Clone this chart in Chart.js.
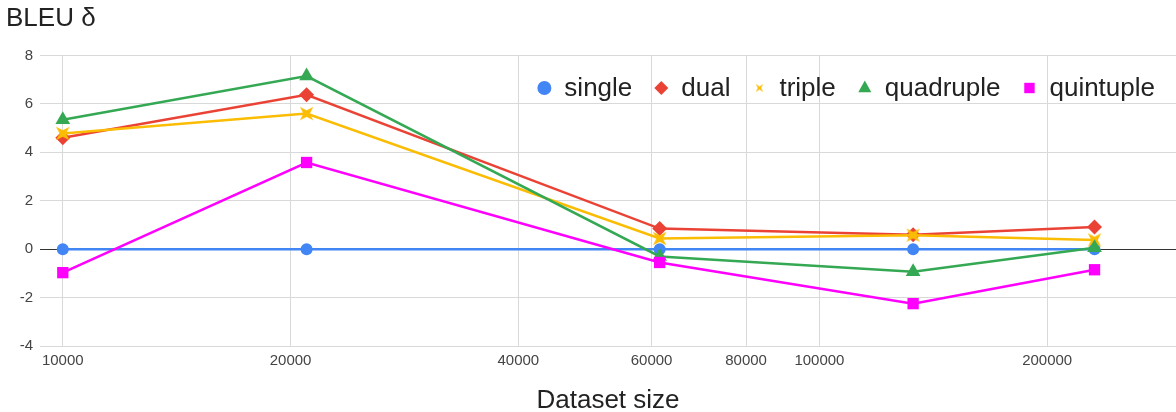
<!DOCTYPE html>
<html>
<head>
<meta charset="utf-8">
<script src="https://cdn.jsdelivr.net/npm/chart.js"></script>
<style>
  html, body { margin: 0; padding: 0; background: #fff; overflow: hidden; }
  #myChart { display: block; }
</style>
</head>
<body>
<canvas id="myChart" width="1176" height="412"></canvas>
<script>
// data
const datasetSizes = [10000, 21000, 61500, 133000, 231000];
const xTicks = [10000, 20000, 40000, 60000, 80000, 100000, 200000];
const yTicks = [-4, -2, 0, 2, 4, 6, 8];
const seriesNames = ['single', 'dual', 'triple', 'quadruple', 'quintuple'];
const single = [0, 0, 0, 0, 0];
const dual = [4.6, 6.38, 0.85, 0.6, 0.92];
const triple = [4.78, 5.6, 0.44, 0.58, 0.38];
const quadruple = [5.35, 7.15, -0.3, -0.93, 0.06];
const quintuple = [-0.97, 3.58, -0.55, -2.25, -0.85];

const FONT = '"Liberation Sans", Arial, sans-serif';

// four pointed star used as marker for "triple"
function makeStar(size, inner, color) {
    const c = document.createElement('canvas');
    c.width = size; c.height = size;
    const g = c.getContext('2d');
    const m = size / 2;
    g.fillStyle = color;
    g.beginPath();
    for (let i = 0; i < 8; i++) {
        const a = Math.PI / 4 + i * Math.PI / 4;
        const r = i % 2 === 0 ? m : inner;
        const px = m + Math.cos(a) * r, py = m + Math.sin(a) * r;
        if (i === 0) g.moveTo(px, py); else g.lineTo(px, py);
    }
    g.closePath();
    g.fill();
    return c;
}
const starBig = makeStar(19, 3.2, '#FBBC04');
const starSmall = makeStar(11, 1.6, '#FBBC04');

function toPoints(vals) {
    return vals.map(function (v, i) { return { x: datasetSizes[i], y: v }; });
}

const styles = [
    { color: '#4285F4', point: 'circle', radius: 6 },
    { color: '#EA4335', point: 'rectRot', radius: 7.5 },
    { color: '#FBBC04', point: starBig, radius: 9 },
    { color: '#34A853', point: 'triangle', radius: 8.5 },
    { color: '#FF00FF', point: 'rect', radius: 8 }
];
const values = [single, dual, triple, quadruple, quintuple];

const datasets = seriesNames.map(function (name, i) {
    return {
        label: name,
        data: toPoints(values[i]),
        borderColor: styles[i].color,
        backgroundColor: styles[i].color,
        borderWidth: 2.5,
        pointStyle: styles[i].point,
        pointRadius: styles[i].radius,
        pointBorderWidth: 0,
        pointBackgroundColor: styles[i].color,
        tension: 0,
        clip: false,
        order: 5 - i
    };
});

// legend drawn inside the plot, top right
const legendMarks = [
    { type: 'circle', r: 7 },
    { type: 'diamond', r: 7 },
    { type: 'star', r: 5 },
    { type: 'triangle', r: 7.5 },
    { type: 'square', r: 5.2 }
];
const insideLegend = {
    id: 'insideLegend',
    afterDraw: function (chart) {
        const ctx = chart.ctx;
        ctx.save();
        ctx.font = '26px ' + FONT;
        ctx.textBaseline = 'middle';
        const y = 88;
        const markGap = 20, itemGap = 29;
        const widths = seriesNames.map(function (n) { return ctx.measureText(n).width; });
        let total = 0;
        widths.forEach(function (w, i) { total += markGap + w + (i ? itemGap : 0); });
        let x = chart.width - 21 - total;
        seriesNames.forEach(function (name, i) {
            const mx = x;
            const m = legendMarks[i];
            ctx.fillStyle = styles[i].color;
            ctx.beginPath();
            if (m.type === 'circle') {
                ctx.arc(mx, y, m.r, 0, Math.PI * 2);
                ctx.fill();
            } else if (m.type === 'diamond') {
                ctx.moveTo(mx, y - m.r); ctx.lineTo(mx + m.r, y);
                ctx.lineTo(mx, y + m.r); ctx.lineTo(mx - m.r, y);
                ctx.closePath(); ctx.fill();
            } else if (m.type === 'star') {
                ctx.drawImage(starSmall, mx - starSmall.width / 2, y - starSmall.height / 2);
            } else if (m.type === 'triangle') {
                ctx.moveTo(mx, y - m.r); ctx.lineTo(mx + m.r * 0.87, y + m.r * 0.55);
                ctx.lineTo(mx - m.r * 0.87, y + m.r * 0.55);
                ctx.closePath(); ctx.fill();
            } else {
                ctx.fillRect(mx - m.r, y - m.r, m.r * 2, m.r * 2);
            }
            ctx.fillStyle = '#222';
            ctx.textAlign = 'left';
            ctx.fillText(name, mx + markGap, y + 1);
            x += markGap + widths[i] + itemGap;
        });
        ctx.restore();
    }
};

const ctx = document.getElementById('myChart');
new Chart(ctx, {
    type: 'line',
    data: { datasets: datasets },
    plugins: [insideLegend],
    options: {
        responsive: false,
        animation: false,
        devicePixelRatio: 1,
        layout: { autoPadding: false, padding: { left: 6, right: 0, top: 0, bottom: 0 } },
        plugins: {
            legend: { display: false },
            tooltip: { enabled: false },
            title: {
                display: true,
                text: 'BLEU δ',
                align: 'start',
                color: '#222',
                font: { family: FONT, size: 26, weight: 'normal', lineHeight: 1.2 },
                padding: { top: 3, bottom: 21.3 }
            }
        },
        scales: {
            x: {
                type: 'logarithmic',
                min: 9330,
                max: 296000,
                afterBuildTicks: function (scale) {
                    scale.ticks = xTicks.map(function (v) { return { value: v }; });
                },
                afterFit: function (scale) {
                    scale.height = 66;
                    scale.paddingLeft = 0;
                    scale.paddingRight = 0;
                },
                border: { display: false },
                grid: { color: '#d9d9d9', drawTicks: false, lineWidth: 1 },
                ticks: {
                    autoSkip: false,
                    maxRotation: 0,
                    padding: 6,
                    color: '#444',
                    font: { family: FONT, size: 15 },
                    callback: function (v) { return String(v); }
                },
                title: {
                    display: true,
                    text: 'Dataset size',
                    color: '#222',
                    font: { family: FONT, size: 26, lineHeight: '22px' },
                    padding: { top: 0, bottom: 0 }
                }
            },
            y: {
                min: -4,
                max: 8,
                afterBuildTicks: function (scale) {
                    scale.ticks = yTicks.map(function (v) { return { value: v }; });
                },
                afterFit: function (scale) { scale.width = 34; },
                border: { display: false },
                grid: {
                    drawTicks: false,
                    lineWidth: 1,
                    color: function (c) { return c.tick && c.tick.value === 0 ? '#333' : '#d9d9d9'; }
                },
                ticks: {
                    padding: 7,
                    color: '#444',
                    font: { family: FONT, size: 15 }
                }
            }
        }
    }
});
</script>
</body>
</html>
